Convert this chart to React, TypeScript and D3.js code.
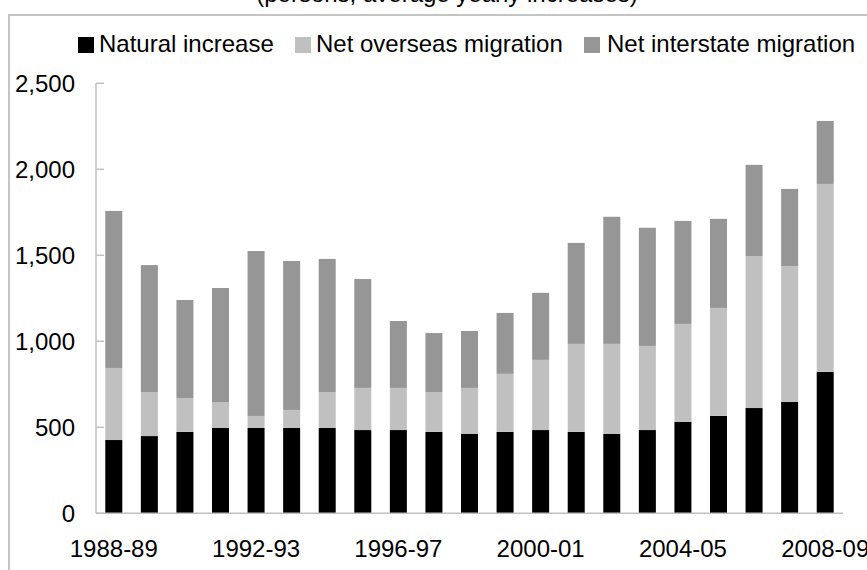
import React from "react";
import * as d3 from "d3";

const categories = [
  "1988-89", "1989-90", "1990-91", "1991-92", "1992-93", "1993-94", "1994-95",
  "1995-96", "1996-97", "1997-98", "1998-99", "1999-00", "2000-01", "2001-02",
  "2002-03", "2003-04", "2004-05", "2005-06", "2006-07", "2007-08", "2008-09",
];
const tickLabels = ["1988-89", "1992-93", "1996-97", "2000-01", "2004-05", "2008-09"];
const yTicks = [0, 500, 1000, 1500, 2000, 2500];

const naturalIncrease = [426, 449, 473, 496, 496, 496, 496, 484, 484, 473, 461, 473, 484, 473, 461, 484, 531, 566, 612, 647, 822];
const netOverseas = [419, 256, 197, 151, 70, 105, 209, 245, 245, 232, 268, 338, 408, 512, 524, 489, 570, 628, 884, 791, 1093];
const netInterstate = [913, 738, 570, 663, 959, 866, 774, 633, 389, 343, 331, 354, 390, 587, 739, 687, 599, 518, 530, 448, 366];

const seriesNames = ["Natural increase", "Net overseas migration", "Net interstate migration"];
const seriesColors = ["#000000", "#c0c0c0", "#969696"];
const title = "(persons, average yearly increases)";

const W = 867;
const H = 570;
const FONT = "'Liberation Sans', Arial, sans-serif";

export default function App() {
  const x = d3.scaleBand<string>().domain(categories).range([96, 843]).paddingInner(0.522).paddingOuter(0.261);
  const y = d3.scaleLinear().domain([0, 2500]).range([513.3, 83.3]);

  const rows = categories.map((c, i) => ({
    cat: c,
    s0: naturalIncrease[i],
    s1: netOverseas[i],
    s2: netInterstate[i],
  }));
  const stack = d3.stack<any>().keys(["s0", "s1", "s2"]);
  const layers = stack(rows);
  const fmt = d3.format(",");

  const legendSquareX = [78, 295, 584];
  const legendTextX = [99, 316, 607];

  return (
    <svg
      width={W}
      height={H}
      style={{ position: "fixed", left: 0, top: 0, background: "#fff" }}
      fontFamily={FONT}
    >
      <rect x={0} y={0} width={W} height={H} fill="#fff" />
      <text x={447} y={2} fontSize={24} textAnchor="middle" fill="#000">{title}</text>
      {/* chart frame */}
      <rect x={9} y={15} width={900} height={600} fill="none" stroke="#c4c4c4" strokeWidth={2} />

      {/* legend */}
      {seriesNames.map((n, i) => (
        <g key={n}>
          <rect x={legendSquareX[i]} y={37} width={16} height={16} fill={seriesColors[i]} />
          <text x={legendTextX[i]} y={52} fontSize={24} fill="#000">{n}</text>
        </g>
      ))}

      {/* bars */}
      {layers.map((layer, li) => (
        <g key={li} fill={seriesColors[li]}>
          {layer.map((d: any, i: number) => (
            <rect
              key={i}
              x={x(categories[i])}
              y={y(d[1])}
              width={x.bandwidth()}
              height={y(d[0]) - y(d[1])}
            />
          ))}
        </g>
      ))}

      {/* y axis */}
      <line x1={96} x2={96} y1={y(2500)} y2={y(0)} stroke="#c0c0c0" strokeWidth={1.5} />
      {yTicks.map((t) => (
        <g key={t}>
          <line x1={96} x2={104} y1={y(t)} y2={y(t)} stroke="#c0c0c0" strokeWidth={1.5} />
          <text x={75} y={y(t)} dy="0.35em" fontSize={24} textAnchor="end" fill="#000">{fmt(t)}</text>
        </g>
      ))}

      {/* x axis */}
      <line x1={96} x2={843} y1={y(0)} y2={y(0)} stroke="#c0c0c0" strokeWidth={1.5} />
      {tickLabels.map((t) => (
        <text key={t} x={(x(t) as number) + x.bandwidth() / 2} y={557} fontSize={24} textAnchor="middle" fill="#000">{t}</text>
      ))}
    </svg>
  );
}
